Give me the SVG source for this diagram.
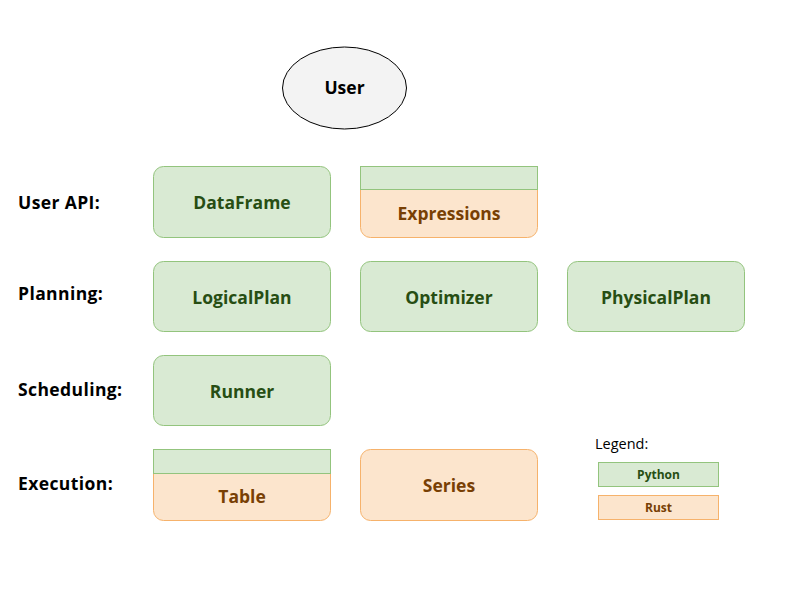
<svg xmlns="http://www.w3.org/2000/svg" width="800" height="600" viewBox="0 0 800 600">
<style>
text{font-family:"Open Sans","Lato","Liberation Sans",sans-serif;}
.g{fill:#d9ead3;stroke:#93c47d;stroke-width:1}
.o{fill:#fce5cd;stroke:#f6b26b;stroke-width:1}
.gt{fill:#274e13;font-weight:bold;font-size:17.5px;text-anchor:middle}
.ot{fill:#783f04;font-weight:bold;font-size:17.5px;text-anchor:middle}
.lab{fill:#000;font-weight:bold;font-size:17.5px;letter-spacing:0.4px}
</style>
<rect width="800" height="600" fill="#fff"/>
<g id="user"><ellipse cx="344.5" cy="88" rx="62" ry="41" fill="#f3f3f3" stroke="#000" stroke-width="1"/>
<text x="344.5" y="94" font-size="17.5" font-weight="bold" text-anchor="middle" fill="#000">User</text></g>
<g id="labels">
<text class="lab" x="18" y="209">User API:</text>
<text class="lab" x="18" y="300">Planning:</text>
<text class="lab" x="18" y="396">Scheduling:</text>
<text class="lab" x="18" y="490">Execution:</text>
</g>
<g id="dataframe"><rect class="g" x="153.5" y="166.5" width="177" height="71" rx="10"/><text class="gt" x="242" y="208.5">DataFrame</text></g>
<g id="expressions"><path class="o" d="M360.5,189.5 H537.5 V227.5 A10,10 0 0 1 527.5,237.5 H370.5 A10,10 0 0 1 360.5,227.5 Z"/><rect class="g" x="360.5" y="166.5" width="177" height="23"/><text class="ot" x="449" y="219.5">Expressions</text></g>
<g id="logicalplan"><rect class="g" x="153.5" y="261.5" width="177" height="70" rx="10"/><text class="gt" x="242" y="303.5">LogicalPlan</text></g>
<g id="optimizer"><rect class="g" x="360.5" y="261.5" width="177" height="70" rx="10"/><text class="gt" x="449" y="303.5">Optimizer</text></g>
<g id="physicalplan"><rect class="g" x="567.5" y="261.5" width="177" height="70" rx="10"/><text class="gt" x="656" y="303.5">PhysicalPlan</text></g>
<g id="runner"><rect class="g" x="153.5" y="355.5" width="177" height="70" rx="10"/><text class="gt" x="242" y="397.5">Runner</text></g>
<g id="table"><path class="o" d="M153.5,473.5 H330.5 V510.5 A10,10 0 0 1 320.5,520.5 H163.5 A10,10 0 0 1 153.5,510.5 Z"/><rect class="g" x="153.5" y="449.5" width="177" height="24"/><text class="ot" x="242" y="502.5">Table</text></g>
<g id="series"><rect class="o" x="360.5" y="449.5" width="177" height="71" rx="10"/><text class="ot" x="449" y="491.5">Series</text></g>
<g id="legend">
<text x="595" y="449" font-size="14.5" fill="#000">Legend:</text>
<rect class="g" x="598.5" y="462.5" width="120" height="24"/><text x="658.5" y="479" font-size="12" font-weight="bold" fill="#274e13" text-anchor="middle">Python</text>
<rect class="o" x="598.5" y="495.5" width="120" height="24"/><text x="658.5" y="512" font-size="12" font-weight="bold" fill="#783f04" text-anchor="middle">Rust</text>
</g>
<g id="connectors"></g>
</svg>
